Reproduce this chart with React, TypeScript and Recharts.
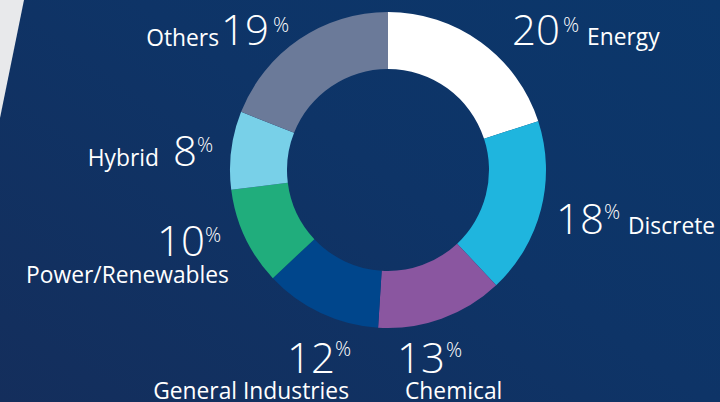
import React from 'react';
import { PieChart, Pie, Cell } from 'recharts';

const sectors = ['Energy', 'Discrete', 'Chemical', 'General Industries', 'Power/Renewables', 'Hybrid', 'Others'];
const shares = [20, 18, 13, 12, 10, 8, 19];
const colors = ['#ffffff', '#1fb5de', '#8a56a0', '#00468c', '#20ad7c', '#78d0e8', '#6b7a99'];

const data = sectors.map((name, i) => ({ name, value: shares[i] }));

// where each label sits: number right edge/baseline, name anchor/baseline
const spots = [
  { nx: 560, ny: 45, px: 563, py: 32, tx: 587, ty: 45, ta: 'start' },
  { nx: 604, ny: 234, px: 604, py: 219, tx: 628, ty: 234, ta: 'start' },
  { nx: 445, ny: 373, px: 446, py: 357, tx: 405, ty: 399, ta: 'start' },
  { nx: 335, ny: 373, px: 335, py: 356, tx: 349, ty: 399, ta: 'end' },
  { nx: 205, ny: 256, px: 205, py: 242, tx: 229, ty: 283, ta: 'end' },
  { nx: 197, ny: 166, px: 197, py: 152, tx: 159, ty: 166, ta: 'end' },
  { nx: 269, ny: 45, px: 273, py: 32, tx: 219, ty: 46, ta: 'end' },
];

const font = '"Open Sans", "Noto Sans", sans-serif';

const renderLabel = (props: any) => {
  const i = props.index;
  const s = spots[i];
  return (
    <g key={`lbl-${i}`}>
      <text x={s.nx} y={s.ny} textAnchor="end" fill="#fff" fontSize={42} fontWeight={300} fontFamily={font}>
        {shares[i]}
      </text>
      <text x={s.px} y={s.py} textAnchor="start" fill="#fff" fontSize={20} fontWeight={300} fontFamily={font}>
        %
      </text>
      <text x={s.tx} y={s.ty} textAnchor={s.ta} fill="#fff" fontSize={22.8} fontFamily={font}>
        {sectors[i]}
      </text>
    </g>
  );
};

const App = () => {
  return (
    <div style={{ position: 'fixed', left: 0, top: 0, width: 720, height: 402, overflow: 'hidden' }}>
      <div
        style={{
          position: 'absolute',
          inset: 0,
          background: 'linear-gradient(215deg, #0b376b 0%, #0e3467 45%, #142e5c 100%)',
        }}
      />
      <div
        style={{
          position: 'absolute',
          inset: 0,
          background: '#e8e9eb',
          clipPath: 'polygon(0 0, 24px 0, 0 118px)',
        }}
      />
      <div style={{ position: 'absolute', left: 0, top: 0 }}>
        <PieChart width={720} height={402} margin={{ top: 0, right: 0, bottom: 0, left: 0 }}>
          <Pie
            data={data}
            dataKey="value"
            nameKey="name"
            cx={388}
            cy={170}
            innerRadius={101}
            outerRadius={158}
            startAngle={90}
            endAngle={-270}
            stroke="none"
            label={renderLabel}
            labelLine={false}
            isAnimationActive={false}
          >
            {data.map((d, i) => (
              <Cell key={d.name} fill={colors[i]} />
            ))}
          </Pie>
        </PieChart>
      </div>
    </div>
  );
};

export default App;
